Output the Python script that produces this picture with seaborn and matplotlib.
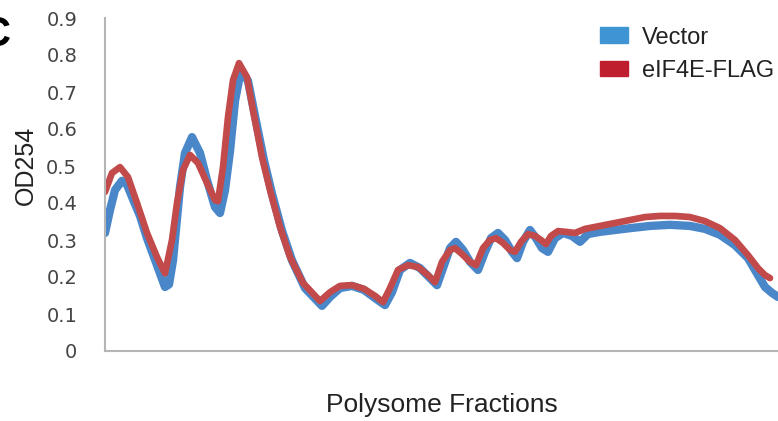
import numpy as np
import pandas as pd
import matplotlib
matplotlib.use("Agg")
import matplotlib.pyplot as plt
import matplotlib.patches as mpatches
import seaborn as sns

# ---- data ----
vector_pos = [0, 5, 10, 17, 22, 28, 35, 42, 52, 60, 64, 68, 75, 80, 87, 95, 102, 110, 115, 120, 125,
              130, 136, 143, 150, 159, 167, 177, 187, 200, 217, 225, 235, 247, 259, 270, 280, 287, 295,
              305, 315, 325, 332, 338, 345, 351, 358, 365, 373, 380, 386, 393, 400, 407, 412, 418, 425,
              431, 437, 443, 450, 458, 467, 475, 483, 495, 510, 525, 545, 565, 585, 600, 615, 630, 643,
              653, 660, 667, 673]
vector_od = [0.319, 0.381, 0.435, 0.460, 0.450, 0.410, 0.365, 0.305, 0.232, 0.173, 0.180, 0.245, 0.443,
             0.535, 0.578, 0.535, 0.462, 0.389, 0.373, 0.435, 0.540, 0.676, 0.760, 0.730, 0.635, 0.515,
             0.425, 0.325, 0.245, 0.170, 0.122, 0.146, 0.170, 0.176, 0.165, 0.143, 0.124, 0.159, 0.219,
             0.238, 0.224, 0.197, 0.178, 0.224, 0.278, 0.295, 0.273, 0.241, 0.219, 0.268, 0.305, 0.319,
             0.300, 0.268, 0.251, 0.295, 0.327, 0.305, 0.278, 0.268, 0.305, 0.319, 0.311, 0.295, 0.316,
             0.322, 0.327, 0.332, 0.338, 0.341, 0.338, 0.330, 0.314, 0.286, 0.251, 0.205, 0.173, 0.157,
             0.146]

flag_pos = [0, 7, 15, 23, 32, 42, 52, 60, 67, 72, 78, 85, 93, 102, 110, 113, 118, 123, 128, 134, 142,
            148, 157, 165, 175, 185, 198, 215, 225, 235, 247, 259, 270, 278, 285, 293, 303, 313, 323,
            330, 337, 345, 350, 357, 365, 371, 378, 385, 391, 398, 405, 410, 416, 423, 430, 436, 441,
            446, 453, 461, 470, 480, 495, 510, 525, 540, 555, 570, 585, 600, 615, 630, 643, 653, 660,
            665]
flag_od = [0.430, 0.481, 0.497, 0.470, 0.400, 0.319, 0.254, 0.210, 0.300, 0.400, 0.489, 0.530, 0.508,
           0.454, 0.408, 0.405, 0.497, 0.632, 0.732, 0.778, 0.740, 0.651, 0.524, 0.435, 0.335, 0.254,
           0.184, 0.135, 0.159, 0.176, 0.178, 0.168, 0.149, 0.132, 0.170, 0.219, 0.232, 0.227, 0.205,
           0.186, 0.241, 0.273, 0.278, 0.262, 0.241, 0.232, 0.278, 0.300, 0.305, 0.292, 0.273, 0.268,
           0.295, 0.316, 0.311, 0.300, 0.289, 0.311, 0.324, 0.322, 0.319, 0.330, 0.338, 0.346, 0.354,
           0.362, 0.365, 0.365, 0.362, 0.351, 0.332, 0.300, 0.259, 0.224, 0.205, 0.197]

series_names = ["Vector", "eIF4E-FLAG"]
y_ticks = [0, 0.1, 0.2, 0.3, 0.4, 0.5, 0.6, 0.7, 0.8, 0.9]
y_tick_labels = ["0", "0.1", "0.2", "0.3", "0.4", "0.5", "0.6", "0.7", "0.8", "0.9"]

line_colors = {"Vector": "#4a87c9", "eIF4E-FLAG": "#c24a4a"}
legend_colors = {"Vector": "#3f95d4", "eIF4E-FLAG": "#be1e2d"}

df = pd.concat([
    pd.DataFrame({"pos": vector_pos, "od": vector_od, "sample": series_names[0]}),
    pd.DataFrame({"pos": flag_pos, "od": flag_od, "sample": series_names[1]}),
], ignore_index=True)

sns.set_theme(style="white")
plt.rcParams["font.family"] = ["Liberation Sans", "DejaVu Sans"]

fig = plt.figure(figsize=(7.78, 4.21), dpi=100)
ax = fig.add_axes([105 / 778, 70 / 421, 673 / 778, 333 / 421])

sns.lineplot(data=df[df["sample"] == "Vector"], x="pos", y="od", color=line_colors["Vector"],
             linewidth=6.0, ax=ax, legend=False, solid_capstyle="round", solid_joinstyle="round")
sns.lineplot(data=df[df["sample"] == "eIF4E-FLAG"], x="pos", y="od", color=line_colors["eIF4E-FLAG"],
             linewidth=4.8, ax=ax, legend=False, solid_capstyle="round", solid_joinstyle="round")

ax.set_xlim(0, 673)
ax.set_ylim(0, 0.9)
ax.set_xticks([])
ax.set_yticks(y_ticks)
ax.set_yticklabels(y_tick_labels, fontsize=14, color="#454545", family=["DejaVu Sans"])
ax.tick_params(axis="y", length=0, pad=20)
ax.set_ylabel("OD254", fontsize=18, color="#222222")
ax.yaxis.set_label_coords(-0.0996, 0.556)
ax.set_xlabel("Polysome Fractions", fontsize=19, color="#222222")
ax.xaxis.set_label_coords(0.5, -0.126)

for s in ["top", "right"]:
    ax.spines[s].set_visible(False)
for s in ["left", "bottom"]:
    ax.spines[s].set_color("#b5b5b5")
    ax.spines[s].set_linewidth(1.5)

handles = [mpatches.Patch(color=legend_colors[n], label=n) for n in series_names]
leg = fig.legend(handles=handles, loc="upper left", bbox_to_anchor=(600 / 778, 1 - 26.5 / 421),
                 frameon=False, fontsize=17, handlelength=1.19, handleheight=0.64,
                 handletextpad=0.6, labelspacing=0.48, borderaxespad=0, borderpad=0)
for t in leg.get_texts():
    t.set_color("#222222")

fig.text(-0.026, 0.965, "C", fontsize=30, fontweight="bold", color="black", va="top", ha="left")

fig.savefig("out.png", dpi=100)
